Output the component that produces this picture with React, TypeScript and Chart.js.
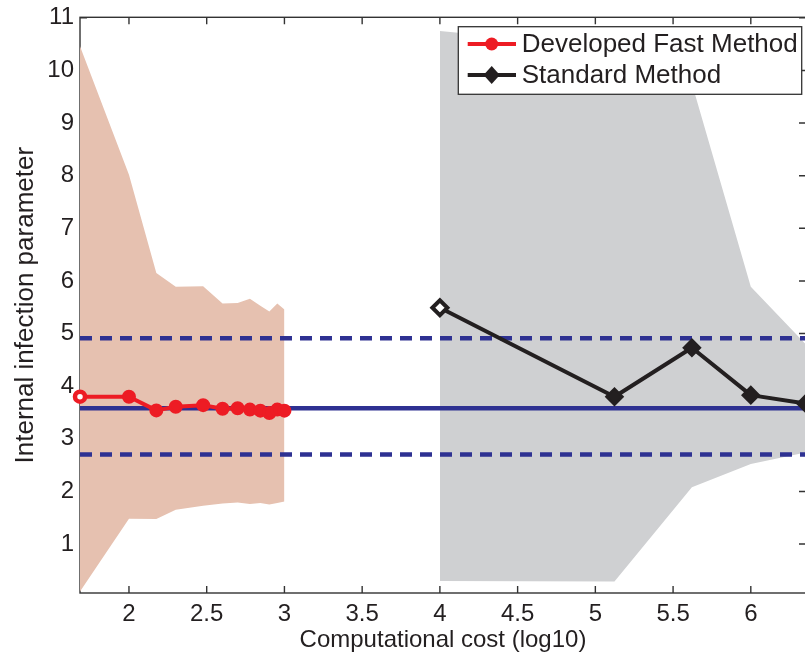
import React, { useEffect, useRef } from "react";
import { Chart, registerables } from "chart.js";

Chart.register(...registerables);

// Axis ranges and ticks
const X_MIN = 1.685;
const X_MAX = 6.355;
const Y_MIN = 0.07;
const Y_MAX = 11.01;
const X_TICKS = [2, 2.5, 3, 3.5, 4, 4.5, 5, 5.5, 6];
const Y_TICKS = [1, 2, 3, 4, 5, 6, 7, 8, 9, 10, 11];

// Developed Fast Method
const fastX = [1.685, 2, 2.176, 2.301, 2.477, 2.602, 2.699, 2.778, 2.845, 2.903, 2.954, 3.0];
const fastY = [3.8, 3.8, 3.54, 3.61, 3.64, 3.57, 3.58, 3.555, 3.535, 3.49, 3.555, 3.535];
const fastUpper = [10.46, 8.02, 6.15, 5.89, 5.9, 5.57, 5.58, 5.66, 5.53, 5.42, 5.57, 5.455];
const fastLower = [0.1, 1.48, 1.476, 1.65, 1.73, 1.77, 1.79, 1.76, 1.78, 1.75, 1.78, 1.81];

// Standard Method
const stdX = [4.0, 5.123, 5.621, 6.0, 6.352];
const stdY = [5.49, 3.8, 4.73, 3.83, 3.67];
const stdUpper = [10.75, 10.43, 9.75, 5.89, 4.8];
const stdLower = [0.3, 0.29, 2.08, 2.52, 2.74];

// Reference lines
const TRUE_VALUE = 3.58;
const UPPER_BOUND = 4.91;
const LOWER_BOUND = 2.7;

const FONT = "'Liberation Sans', Arial, Helvetica, sans-serif";
const TEXT = "#231F20";
const AXIS = "#333333";
const RED = "#ED1C24";
const BLACK = "#231F20";
const BLUE = "#2E3192";
const ORANGE = "#E6C1B0";
const GRAY = "#CFD0D2";

const CANVAS_W = 812;
const CANVAS_H = 654;

const pts = (xs: number[], ys: number[]) => xs.map((x, i) => ({ x, y: ys[i] }));
const hline = (y: number) => [
  { x: X_MIN, y },
  { x: X_MAX, y },
];

const framePlugin = {
  id: "frame",
  beforeDatasetsDraw(chart: any) {
    const { ctx, chartArea: a, scales } = chart;
    ctx.save();
    ctx.strokeStyle = AXIS;
    ctx.lineWidth = 1.4;
    ctx.strokeRect(a.left, a.top, a.right - a.left, a.bottom - a.top);
    const L = 7;
    ctx.beginPath();
    for (const t of scales.x.ticks) {
      const px = scales.x.getPixelForValue(t.value);
      ctx.moveTo(px, a.bottom);
      ctx.lineTo(px, a.bottom - L);
      ctx.moveTo(px, a.top);
      ctx.lineTo(px, a.top + L);
    }
    for (const t of scales.y.ticks) {
      const py = scales.y.getPixelForValue(t.value);
      ctx.moveTo(a.left, py);
      ctx.lineTo(a.left + L, py);
      ctx.moveTo(a.right, py);
      ctx.lineTo(a.right - L, py);
    }
    ctx.stroke();
    ctx.restore();
  },
};

const legendPlugin = {
  id: "boxLegend",
  afterDraw(chart: any) {
    const { ctx, chartArea: a } = chart;
    const w = 343.4;
    const h = 67.6;
    const right = a.right - 4.3;
    const left = right - w;
    const top = a.top + 9.4;
    ctx.save();
    ctx.fillStyle = "#ffffff";
    ctx.fillRect(left, top, w, h);
    ctx.strokeStyle = AXIS;
    ctx.lineWidth = 1.3;
    ctx.strokeRect(left, top, w, h);
    [0, 1].forEach((di, r) => {
      const ds = chart.data.datasets[di];
      const y = top + 17.3 + r * 31;
      ctx.strokeStyle = ds.borderColor;
      ctx.lineWidth = 4;
      ctx.beginPath();
      ctx.moveTo(left + 9.4, y);
      ctx.lineTo(left + 57.7, y);
      ctx.stroke();
      const mx = left + 33.4;
      ctx.fillStyle = ds.borderColor;
      ctx.beginPath();
      if (ds.pointStyle === "rectRot") {
        const s = 9;
        ctx.moveTo(mx, y - s);
        ctx.lineTo(mx + s * 0.9, y);
        ctx.lineTo(mx, y + s);
        ctx.lineTo(mx - s * 0.9, y);
        ctx.closePath();
      } else {
        ctx.arc(mx, y, 6.5, 0, Math.PI * 2);
      }
      ctx.fill();
      ctx.fillStyle = TEXT;
      ctx.font = `26px ${FONT}`;
      ctx.textAlign = "left";
      ctx.textBaseline = "middle";
      ctx.fillText(ds.label, left + 63.4, y + 0.5);
    });
    ctx.restore();
  },
};

export default function App() {
  const ref = useRef<HTMLCanvasElement | null>(null);

  useEffect(() => {
    if (!ref.current) return;
    const chart = new Chart(ref.current, {
      type: "line",
      data: {
        datasets: [
          {
            label: "Developed Fast Method",
            data: pts(fastX, fastY),
            borderColor: RED,
            borderWidth: 4,
            borderJoinStyle: "round",
            pointRadius: fastX.map((_, i) => (i === 0 ? 5 : 5.5)),
            pointBorderWidth: fastX.map((_, i) => (i === 0 ? 4.5 : 3)),
            pointBorderColor: RED,
            pointBackgroundColor: fastX.map((_, i) => (i === 0 ? "#ffffff" : RED)),
            pointStyle: "circle",
            fill: false,
            clip: false,
          } as any,
          {
            label: "Standard Method",
            data: pts(stdX, stdY),
            borderColor: BLACK,
            borderWidth: 4,
            borderJoinStyle: "round",
            pointRadius: stdX.map((_, i) => (i === 0 ? 7.5 : 8)),
            pointBorderWidth: stdX.map((_, i) => (i === 0 ? 4 : 2.5)),
            pointBorderColor: BLACK,
            pointBackgroundColor: stdX.map((_, i) => (i === 0 ? "#ffffff" : BLACK)),
            pointStyle: "rectRot",
            fill: false,
            clip: false,
          } as any,
          {
            label: "True value",
            data: hline(TRUE_VALUE),
            borderColor: BLUE,
            borderWidth: 4.5,
            pointRadius: 0,
            fill: false,
          },
          {
            label: "Upper bound",
            data: hline(UPPER_BOUND),
            borderColor: BLUE,
            borderWidth: 4.5,
            borderDash: [12, 8],
            pointRadius: 0,
            fill: false,
          },
          {
            label: "Lower bound",
            data: hline(LOWER_BOUND),
            borderColor: BLUE,
            borderWidth: 4.5,
            borderDash: [12, 8],
            pointRadius: 0,
            fill: false,
          },
          {
            label: "Fast lower",
            data: pts(fastX, fastLower),
            borderColor: "rgba(0,0,0,0)",
            borderWidth: 0,
            pointRadius: 0,
            fill: false,
          },
          {
            label: "Fast upper",
            data: pts(fastX, fastUpper),
            borderColor: "rgba(0,0,0,0)",
            borderWidth: 0,
            pointRadius: 0,
            backgroundColor: ORANGE,
            fill: 5,
          },
          {
            label: "Standard lower",
            data: pts(stdX, stdLower),
            borderColor: "rgba(0,0,0,0)",
            borderWidth: 0,
            pointRadius: 0,
            fill: false,
          },
          {
            label: "Standard upper",
            data: pts(stdX, stdUpper),
            borderColor: "rgba(0,0,0,0)",
            borderWidth: 0,
            pointRadius: 0,
            backgroundColor: GRAY,
            fill: 7,
          },
        ],
      },
      options: {
        animation: false,
        responsive: false,
        events: [],
        layout: { autoPadding: false, padding: { left: 0, top: 17.3, right: 6, bottom: 0 } },
        plugins: {
          legend: { display: false },
          tooltip: { enabled: false },
        },
        scales: {
          x: {
            type: "linear",
            min: X_MIN,
            max: X_MAX,
            afterBuildTicks: (s: any) => {
              s.ticks = X_TICKS.map((v) => ({ value: v }));
            },
            afterFit: (s: any) => {
              s.height = 61;
              s.paddingLeft = 0;
              s.paddingRight = 0;
              s.paddingTop = 0;
              s.paddingBottom = 0;
            },
            ticks: {
              font: { family: FONT, size: 24, lineHeight: 1 },
              color: TEXT,
              padding: 9,
              maxRotation: 0,
              autoSkip: false,
              callback: (v: any) => String(v),
            },
            grid: { display: false, drawTicks: false },
            border: { display: false },
            title: {
              display: true,
              text: "Computational cost (log10)",
              color: TEXT,
              font: { family: FONT, size: 24, lineHeight: 1 },
              padding: { top: 0, bottom: 1.5 },
            },
          },
          y: {
            type: "linear",
            min: Y_MIN,
            max: Y_MAX,
            afterBuildTicks: (s: any) => {
              s.ticks = Y_TICKS.map((v) => ({ value: v }));
            },
            afterFit: (s: any) => {
              s.width = 80;
              s.paddingLeft = 0;
              s.paddingRight = 0;
              s.paddingTop = 0;
              s.paddingBottom = 0;
            },
            ticks: {
              font: { family: FONT, size: 24, lineHeight: 1 },
              color: TEXT,
              padding: 6,
              autoSkip: false,
              callback: (v: any) => String(v),
            },
            grid: { display: false, drawTicks: false },
            border: { display: false },
            title: {
              display: true,
              text: "Internal infection parameter",
              color: TEXT,
              font: { family: FONT, size: 26, lineHeight: 1 },
              padding: { top: 12.5, bottom: 0 },
            },
          },
        },
      },
      plugins: [framePlugin, legendPlugin],
    } as any);
    return () => chart.destroy();
  }, []);

  return (
    <div
      style={{
        position: "absolute",
        left: 0,
        top: 0,
        width: 805,
        height: 654,
        overflow: "hidden",
        background: "#ffffff",
      }}
    >
      <div style={{ width: CANVAS_W, height: CANVAS_H }}>
        <canvas
          ref={ref}
          width={CANVAS_W}
          height={CANVAS_H}
          style={{ display: "block", width: CANVAS_W, height: CANVAS_H }}
        />
      </div>
    </div>
  );
}
